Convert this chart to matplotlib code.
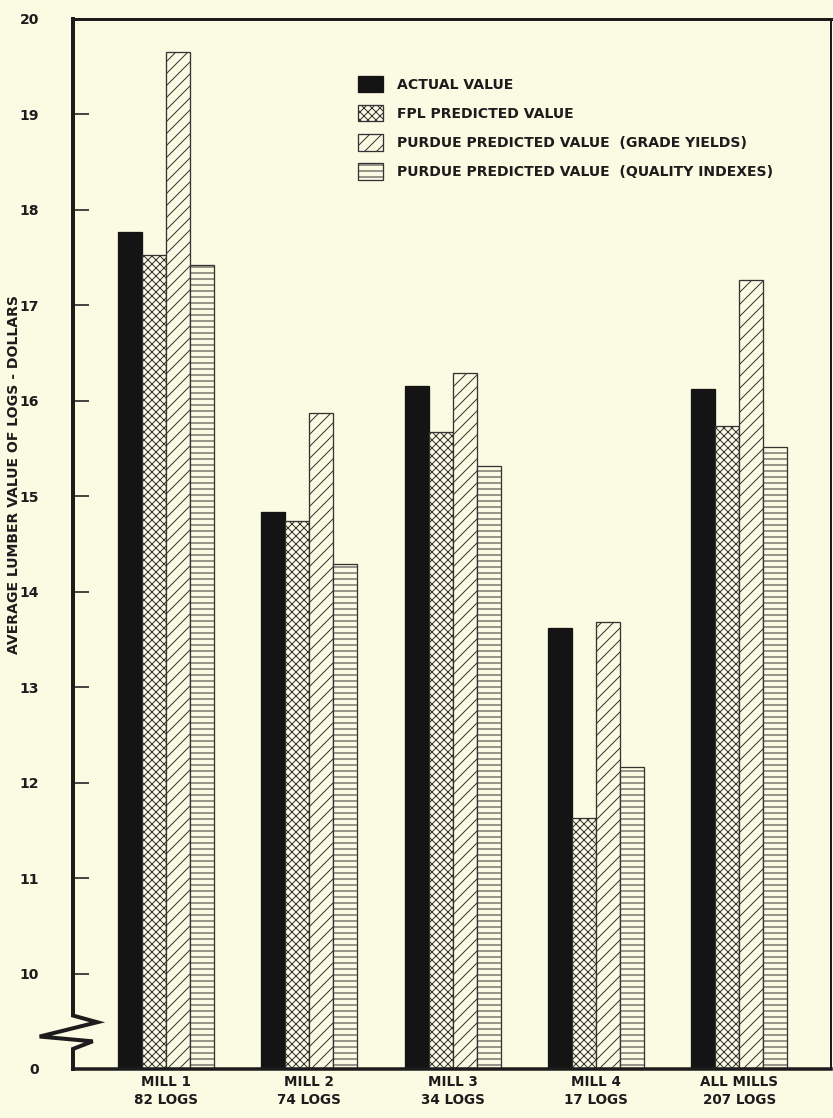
import matplotlib
matplotlib.use("Agg")
from matplotlib import pyplot as plt
from matplotlib.transforms import blended_transform_factory

# values (dollars); the axis is broken between 0 and 10
mills = ["MILL 1\n82 LOGS", "MILL 2\n74 LOGS", "MILL 3\n34 LOGS",
         "MILL 4\n17 LOGS", "ALL MILLS\n207 LOGS"]
actual = [17.77, 14.84, 16.16, 13.62, 16.12]
fpl = [17.53, 14.74, 15.67, 11.63, 15.74]
purdue_grade = [19.65, 15.87, 16.29, 13.68, 17.27]
purdue_quality = [17.42, 14.29, 15.32, 12.16, 15.52]
series_names = ["ACTUAL VALUE", "FPL PREDICTED VALUE",
                "PURDUE PREDICTED VALUE  (GRADE YIELDS)",
                "PURDUE PREDICTED VALUE  (QUALITY INDEXES)"]
tick_values = [9, 10, 11, 12, 13, 14, 15, 16, 17, 18, 19, 20]
tick_labels = ["0", "10", "11", "12", "13", "14", "15", "16", "17", "18", "19", "20"]

BASE = 9  # where "0" sits on the broken axis
paper = "#fbfae3"
ink = "#1c1c1c"
plt.rcParams["font.family"] = ["DejaVu Sans"]
plt.rcParams["hatch.linewidth"] = 1.0
plt.rcParams["hatch.color"] = "#333333"

fig = plt.figure(dpi=72, figsize=(833 / 72, 1118 / 72), facecolor=paper)
ax = fig.add_axes([73 / 833, 1 - 1069 / 1118, 758 / 833, 1050 / 1118])
ax.set_facecolor(paper)

w = 0.167
styles = [dict(color="#141414", edgecolor="#141414"),
          dict(color=paper, edgecolor="#333333", hatch="xxx"),
          dict(color=paper, edgecolor="#333333", hatch="//"),
          dict(color=paper, edgecolor="#333333", hatch="--")]
data = [actual, fpl, purdue_grade, purdue_quality]
x = list(range(len(mills)))
for k, (vals, st, name) in enumerate(zip(data, styles, series_names)):
    pos = [i + (k - 1.5) * w for i in x]
    ax.bar(pos, [v - BASE for v in vals], w, bottom=BASE, linewidth=1.3,
           label=name, **st)

ax.set_xlim(-0.649, 4.64)
ax.set_ylim(BASE, 20)
ax.set_yticks(tick_values)
ax.set_yticklabels(tick_labels)
ax.set_xticks(x)
ax.set_xticklabels(mills, linespacing=1.4)
ax.tick_params(axis="y", direction="in", length=16, width=1.6, pad=34,
               labelsize=14, colors=ink)
ax.tick_params(axis="x", length=0, pad=6, labelsize=13.5, colors=ink)
for t in ax.get_xticklabels() + ax.get_yticklabels():
    t.set_fontweight("bold")
ax.yaxis.get_major_ticks()[0].tick1line.set_visible(False)
ax.yaxis.get_major_ticks()[-1].tick1line.set_visible(False)

ax.set_ylabel("AVERAGE LUMBER VALUE OF LOGS - DOLLARS", fontsize=14,
              fontweight="bold", color=ink)
ax.yaxis.set_label_coords(-0.068, 0.566)

# frame, with the left spine drawn by hand to show the break
ax.spines["left"].set_visible(False)
ax.spines["bottom"].set_linewidth(3.5)
ax.spines["top"].set_linewidth(3)
ax.spines["right"].set_linewidth(2)
for s in ["bottom", "top", "right"]:
    ax.spines[s].set_color(ink)
tr = blended_transform_factory(ax.transAxes, ax.transData)
ax.plot([0, 0, 0.032, -0.044, 0.026, 0, 0],
        [20, 9.56, 9.49, 9.34, 9.29, 9.21, BASE],
        color=ink, lw=4, transform=tr, clip_on=False,
        solid_joinstyle="miter", zorder=5)

leg = ax.legend(loc="upper left", bbox_to_anchor=(345 / 833, 1 - 63 / 1118),
                bbox_transform=fig.transFigure, frameon=False,
                prop=dict(size=14, weight="bold"), handlelength=1.8,
                handleheight=1.45, labelspacing=0.9, handletextpad=1.0)
for t in leg.get_texts():
    t.set_color(ink)

plt.savefig("out.png", dpi=72, facecolor=paper)
